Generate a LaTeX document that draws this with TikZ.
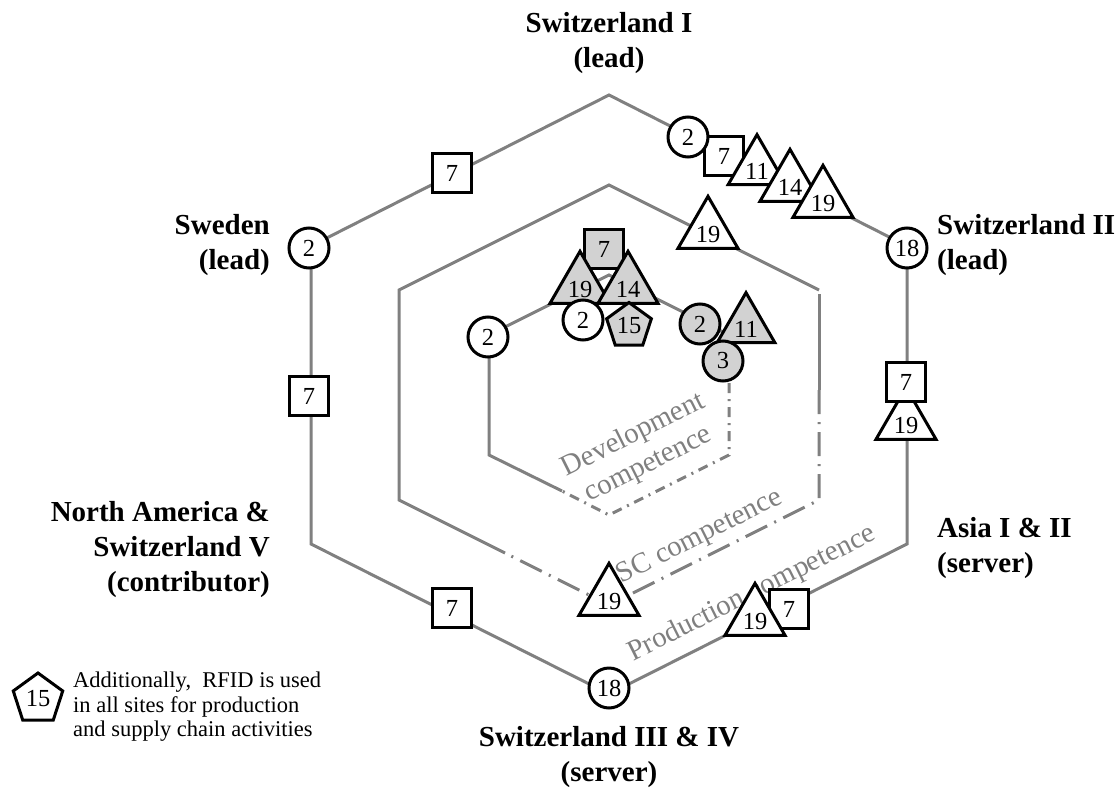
\documentclass[tikz,border=0pt]{standalone}
\usepackage{fontspec}
\setmainfont{Liberation Serif}
\usetikzlibrary{shapes.geometric}
\definecolor{hexline}{RGB}{128,128,128}
\definecolor{markfill}{RGB}{210,210,210}
% numbers inside triangles sit a little below the centroid
\newcommand{\low}[1]{\raisebox{-3pt}[\height][0pt]{#1}}

\begin{document}
\begin{tikzpicture}[x=1pt,y=-1pt,
  hexa/.style={draw=hexline, line width=3pt},
  devdash/.style={hexa, dash pattern=on 10pt off 6pt on 2pt off 6pt},
  scdash/.style={hexa, dash pattern=on 24pt off 8pt on 2pt off 8pt},
  marker/.style={draw=black, line width=3pt, fill=white, inner sep=0pt,
    font=\fontsize{24.5}{24.5}\selectfont},
  dot/.style={marker, circle, minimum size=40pt},
  box/.style={marker, rectangle, minimum size=39pt},
  tri/.style={marker, regular polygon, regular polygon sides=3, minimum size=58pt},
  penta/.style={marker, regular polygon, regular polygon sides=5, minimum size=47pt},
  shaded/.style={fill=markfill},
  site/.style={font=\fontsize{29}{35}\selectfont\bfseries, inner sep=0pt},
  comp/.style={text=hexline, font=\fontsize{29}{33}\selectfont, rotate=26.57,
    inner sep=0pt, align=center},
  keytext/.style={font=\fontsize{22.5}{24.5}\selectfont, inner sep=0pt, align=left},
]
\useasboundingbox (0,0) rectangle (1119,795);

% production competence (outer ring)
\draw[hexa] (311,246) -- (609,95) -- (907,246) -- (907,544) -- (609,694) -- (311,544) -- cycle;
% supply chain competence (middle ring)
\draw[hexa] (505,553) -- (399,500) -- (399,290) -- (609,185) -- (819,290);
\draw[hexa] (819,294) -- (819,390);
\draw[scdash] (819,390) -- (819,500) -- (609,605) -- (505,553);
% development competence (inner ring)
\draw[hexa] (562,491) -- (489,455) -- (489,335) -- (609,275) -- (729,335);
\draw[devdash] (729,335) -- (729,455) -- (609,515) -- (562,491);

% ring names
\node[comp] (devlab) at (641,450) {Development\\competence};
\node[comp] (sclab) at (700,537) {SC competence};
\node[comp] (prodlab) at (752,594) {Production competence};

% sites
\node[site, align=center] (swI) at (609,43) {Switzerland I\\(lead)};
\node[site, align=right, anchor=east] (swe) at (270,245) {Sweden\\(lead)};
\node[site, align=left, anchor=west] (swII) at (937,245) {Switzerland II\\(lead)};
\node[site, align=right, anchor=east] (na) at (270,550) {North America \&\\Switzerland V\\(contributor)};
\node[site, align=left, anchor=west] (asia) at (937,548) {Asia I \& II\\(server)};
\node[site, align=center] (swIII) at (609,757) {Switzerland III \& IV\\(server)};

% outer ring markers
\node[box] (pUL7) at (452,173) {7};
\node[dot] (pSwe) at (309,248) {2};
\node[box] (pL7) at (309,396) {7};
\node[box] (pLL7) at (452,608) {7};
\node[dot] (pB18) at (609,688) {18};
\node[box] (pLR7) at (789,609) {7};
\node[tri] (pLR19) at (755,618) {\low{19}};
\node[tri] (pR19) at (906,422) {\low{19}};
\node[box] (pR7) at (906,382) {7};
\node[dot] (pSw18) at (907,248) {18};
\node[box] (pT7) at (724,156) {7};
\node[dot] (pT2) at (688,137) {2};
\node[tri] (pT11) at (757,168) {\low{11}};
\node[tri] (pT14) at (790,184) {\low{14}};
\node[tri] (pT19) at (823,200) {\low{19}};

% middle ring markers
\node[tri] (sUR19) at (708,231) {\low{19}};
\node[tri] (sB19) at (609,598) {\low{19}};

% inner ring markers
\node[dot] (dL2) at (488,337) {2};
\node[box, shaded] (dT7) at (604,249) {7};
\node[tri, shaded] (dT19) at (580,286) {\low{19}};
\node[tri, shaded] (dT14) at (628,286) {\low{14}};
\node[dot] (dT2) at (583,320) {2};
\node[penta, shaded] (dT15) at (629,326) {15};
\node[tri, shaded] (dR11) at (746,326) {\low{11}};
\node[dot, shaded] (dR2) at (700,324) {2};
\node[dot, shaded] (dR3) at (723,361) {3};

% key
\node[penta, minimum size=52pt] (key) at (38,699) {15};
\node[keytext, anchor=north west] (keynote) at (73,672)
  {Additionally,~ RFID is used\\in all sites for production\\and supply chain activities};
\end{tikzpicture}
\end{document}
